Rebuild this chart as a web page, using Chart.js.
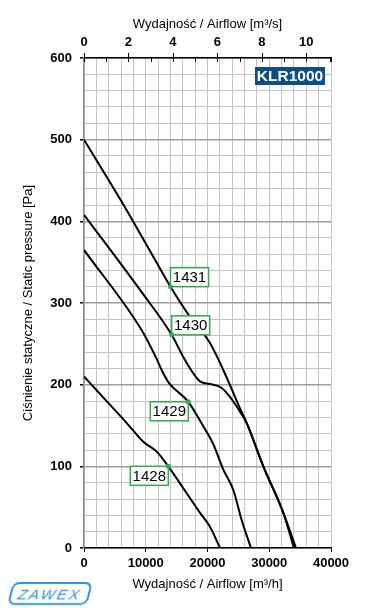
<!DOCTYPE html>
<html>
<head>
<meta charset="utf-8">
<script src="https://cdn.jsdelivr.net/npm/chart.js@4/dist/chart.umd.min.js"></script>
<style>
  html,body{margin:0;padding:0;background:#fff}
  #wrap{position:relative;width:392px;height:608px}
  #logo{position:absolute;left:10px;top:582px;width:76px;height:19px;border:2px solid #2b93dc;border-radius:7px;transform:skewX(-14deg);
    color:#2b93dc;font:italic 15px "Liberation Sans",Arial,sans-serif;letter-spacing:2px;text-align:center;line-height:19px}
</style>
</head>
<body>
<div id="wrap">
  <canvas id="c" width="392" height="608"></canvas>
  <div id="logo">ZAWEX</div>
</div>
<script>
// fan curves, airflow in m3/h, static pressure in Pa
const names = ['1431', '1430', '1429', '1428'];
const flow1431 = [0, 5940, 11500, 14010, 17170, 20400, 22560, 25260, 26350, 29040, 32280, 34330];
const pres1431 = [500, 426, 353, 320, 283, 251, 218, 171, 153, 100, 43, 0];
const flow1430 = [0, 9070, 14200, 16080, 17700, 18790, 20940, 22300, 23640, 25260, 26350, 29040, 32280, 34000];
const pres1430 = [408, 316, 261, 234, 214, 204, 200, 196, 185, 167, 153, 100, 43, 0];
const flow1429 = [0, 9400, 11610, 12840, 13770, 16890, 19320, 20940, 22560, 24180, 25540, 27040];
const pres1429 = [365, 266, 234, 214, 202, 179, 149, 127, 96, 71, 34, 0];
const flow1428 = [0, 3510, 6920, 9600, 11770, 13650, 16630, 18790, 20400, 22020];
const pres1428 = [210, 181, 153, 130, 118, 100, 67, 43, 26, 0];
const markerIdx = [3, 2, 5, 5];

const flows = [flow1431, flow1430, flow1429, flow1428];
const press = [pres1431, pres1430, pres1429, pres1428];

const xMax = 40000, yMax = 600;
const green = '#2eaa4f';
const font = '"Liberation Sans", Arial, sans-serif';

const datasets = names.map((n, i) => ({
  label: n,
  data: flows[i].map((f, j) => ({x: f, y: press[i][j]})),
  borderColor: '#000',
  borderWidth: 2,
  cubicInterpolationMode: 'monotone',
  pointRadius: 0,
  fill: false
}));

// label boxes + KLR1000 tag + top axis ticks
const extras = {
  id: 'extras',
  afterDatasetsDraw(chart) {
    const c = chart.ctx, a = chart.chartArea;
    c.save();
    c.font = '15px ' + font;
    c.textBaseline = 'middle';
    c.textAlign = 'center';
    names.forEach((n, i) => {
      const p = chart.getDatasetMeta(i).data[markerIdx[i]];
      const w = 38, h = 19;
      const bx = i < 2 ? p.x : p.x - w;
      const by = i < 2 ? p.y - h : p.y;
      c.fillStyle = '#fff';
      c.fillRect(bx, by, w, h);
      c.strokeStyle = green;
      c.lineWidth = 1.5;
      c.strokeRect(bx, by, w, h);
      c.fillStyle = '#000';
      c.fillText(n, bx + w / 2, by + h / 2 + 1);
      c.fillStyle = green;
      c.beginPath(); c.arc(p.x, p.y, 2.5, 0, Math.PI * 2); c.fill();
    });
    // model tag
    c.fillStyle = '#0c4d8c';
    c.fillRect(a.right - 76, a.top + 9, 70, 18);
    c.fillStyle = '#fff';
    c.font = 'bold 15.5px ' + font;
    c.fillText('KLR1000', a.right - 41, a.top + 18.5);
    // top axis ticks
    const s = chart.scales.x2;
    c.strokeStyle = '#000';
    c.lineWidth = 1;
    s.ticks.forEach(t => {
      const x = Math.round(s.getPixelForValue(t.value)) + 0.5;
      c.beginPath();
      c.moveTo(x, t.value % 2 === 0 ? a.top - 5 : a.top);
      c.lineTo(x, a.top + 4);
      c.stroke();
    });
    const xe = Math.round(a.right) - 0.5;
    c.beginPath(); c.moveTo(xe, a.top); c.lineTo(xe, a.top + 4); c.stroke();
    c.restore();
  }
};

new Chart(document.getElementById('c'), {
  type: 'line',
  data: {datasets},
  options: {
    responsive: false,
    animation: false,
    layout: {padding: {right: 61}},
    plugins: {legend: {display: false}, tooltip: {enabled: false}},
    scales: {
      x: {
        type: 'linear', position: 'bottom', min: 0, max: xMax,
        afterFit: s => { s.height = 60; },
        ticks: {
          stepSize: 2000, autoSkip: false, maxRotation: 0, padding: 4,
          color: '#000', font: {family: font, size: 13, weight: 'bold'},
          callback: v => v % 10000 === 0 ? String(v) : ''
        },
        grid: {
          color: '#c4c4c4', lineWidth: 1, tickLength: 4,
          tickColor: ctx => ctx.tick && ctx.tick.value % 10000 === 0 ? '#000' : 'rgba(0,0,0,0)'
        },
        border: {color: '#000', width: 1.5},
        title: {display: true, text: 'Wydajność / Airflow [m³/h]', color: '#000',
          font: {family: font, size: 13}, padding: {bottom: 16}}
      },
      x2: {
        type: 'linear', position: 'top', min: 0, max: xMax / 3600,
        afterFit: s => { s.height = 58; },
        ticks: {
          stepSize: 1, autoSkip: false, maxRotation: 0, padding: 8,
          color: '#000', font: {family: font, size: 13, weight: 'bold'},
          callback: v => v % 2 === 0 ? String(v) : ''
        },
        grid: {drawOnChartArea: false, drawTicks: false},
        border: {color: '#000', width: 1.5},
        title: {display: true, text: 'Wydajność / Airflow [m³/s]', color: '#000',
          font: {family: font, size: 13}, padding: {top: 17}}
      },
      y: {
        type: 'linear', min: 0, max: yMax,
        afterFit: s => { s.width = 84; },
        ticks: {
          stepSize: 20, autoSkip: false, padding: 8,
          color: '#000', font: {family: font, size: 13, weight: 'bold'},
          callback: v => v % 100 === 0 ? String(v) : ''
        },
        grid: {
          color: ctx => ctx.tick && ctx.tick.value % 100 === 0 ? '#9e9e9e' : '#c4c4c4',
          lineWidth: ctx => ctx.tick && ctx.tick.value % 100 === 0 ? 1.5 : 1,
          tickLength: 4,
          tickColor: ctx => ctx.tick && ctx.tick.value % 100 === 0 ? '#000' : 'rgba(0,0,0,0)'
        },
        border: {color: '#8c8c8c', width: 1.5},
        title: {display: true, text: 'Ciśnienie statyczne / Static pressure [Pa]', color: '#000',
          font: {family: font, size: 13}, padding: {top: 21}}
      }
    }
  },
  plugins: [extras]
});
</script>
</body>
</html>
